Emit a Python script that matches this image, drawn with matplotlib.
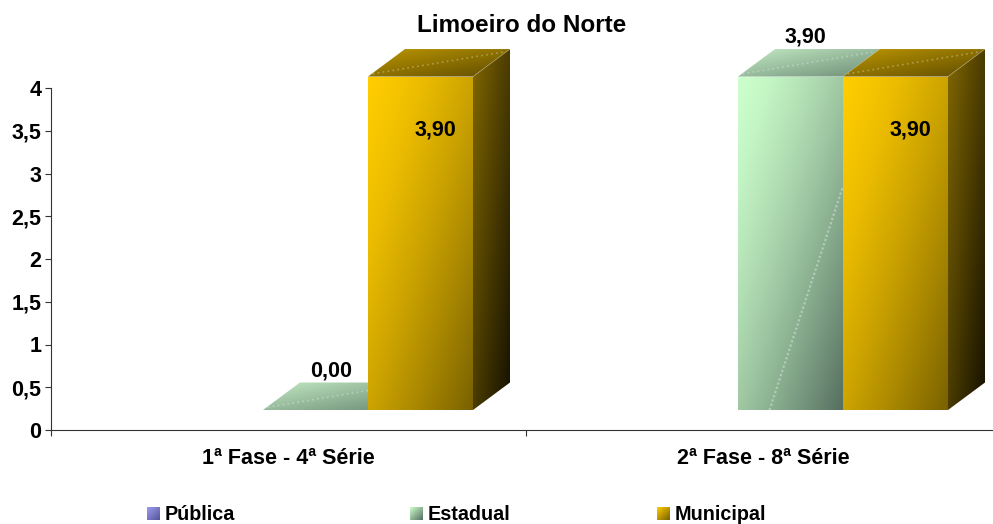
import numpy as np
import matplotlib
matplotlib.use("Agg")
import matplotlib.pyplot as plt
import matplotlib.colors as mcolors
from matplotlib.patches import Polygon

plt.rcParams["font.family"] = ["Liberation Sans", "DejaVu Sans"]
plt.rcParams["font.weight"] = "bold"

title = "Limoeiro do Norte"
categories = ["1ª Fase - 4ª Série", "2ª Fase - 8ª Série"]
yticks = [0, 0.5, 1, 1.5, 2, 2.5, 3, 3.5, 4]
ytick_labels = ["0", "0,5", "1", "1,5", "2", "2,5", "3", "3,5", "4"]
series_names = ["Pública", "Estadual", "Municipal"]
estadual = [0.00, 3.90]
municipal = [3.90, 3.90]

# bar geometry, in axis units (one category is one unit wide)
bar_w = 105 / 475
depth_x = 37 / 475
depth_y = 27.5 / 85.5
base_y = 20 / 85.5
est_left = 212 / 475
mun_left = 317 / 475

est_colors = {
    "front": ("#CCFFCC", "#566F60"),
    "top": ("#C4EBC4", "#6C8C76"),
}
mun_colors = {
    "front": ("#FFCC00", "#796100"),
    "top": ("#BD9700", "#5E4B00"),
    "side": ("#816700", "#151100"),
}


def gradient(ax, verts, c0, c1, z, gamma=1.0):
    # diagonal fill, light corner top left, dark corner bottom right
    verts = np.array(verts)
    x0, x1 = verts[:, 0].min(), verts[:, 0].max()
    y0, y1 = verts[:, 1].min(), verts[:, 1].max()
    u, v = np.meshgrid(np.linspace(0, 1, 128), np.linspace(0, 1, 128))
    cmap = mcolors.LinearSegmentedColormap.from_list("g", [c0, c1])
    im = ax.imshow(((u + v) / 2) ** gamma, cmap=cmap, vmin=0, vmax=1, extent=(x0, x1, y0, y1),
                   origin="upper", aspect="auto", interpolation="bilinear", zorder=z)
    # the bars stick out above the axes, so clip to the figure and not to ax.bbox
    im.set_clip_box(ax.figure.bbox)
    im.set_clip_path(Polygon(verts, transform=ax.transData))
    return im


def bar3d(ax, left, value, colors, z, streak=False):
    r = left + bar_w
    b = base_y
    t = base_y + value
    dx, dy = depth_x, depth_y
    top = [(left, t), (r, t), (r + dx, t + dy), (left + dx, t + dy)]
    gradient(ax, top, *colors["top"], z)
    # faint speckled band that crosses the top face
    ax.plot([left + 0.01, r + dx * 0.85], [t + dy * 0.1, t + dy * 0.9], color="white", alpha=0.3,
            lw=1.2, ls=(0, (1, 2)), zorder=z + 0.1, clip_on=False)
    if value > 0:
        # estadual has no "side" entry, municipal hides that face anyway
        if "side" in colors:
            side = [(r, b), (r + dx, b + dy), (r + dx, t + dy), (r, t)]
            gradient(ax, side, *colors["side"], z + 0.2)
        front = [(left, b), (r, b), (r, t), (left, t)]
        gradient(ax, front, *colors["front"], z + 0.2, gamma=1.4)
        ax.plot([r, r + dx], [t, t + dy], color="white", alpha=0.25, lw=0.6, zorder=z + 0.3, clip_on=False)
        if streak:
            ax.plot([left + bar_w * 0.3, r - 0.001], [b, t - 1.3], color="white", alpha=0.35,
                    lw=1.6, ls=(0, (1, 1)), zorder=z + 0.3)


fig = plt.figure(figsize=(9.93, 5.24), dpi=100)
ax = fig.add_axes([51 / 993, (524 - 430) / 524, 942 / 993, 342 / 524])
ax.set_autoscale_on(False)
ax.set_xlim(0, 942 / 475)
ax.set_ylim(0, 4)

for i in range(len(categories)):
    bar3d(ax, i + est_left, estadual[i], est_colors, 3, streak=True)
    bar3d(ax, i + mun_left, municipal[i], mun_colors, 4)
    # data labels
    ax.text(i + est_left + bar_w / 2 + 0.032, base_y + estadual[i] + depth_y + 0.14, f"{estadual[i]:.2f}".replace(".", ","),
            ha="center", va="center", fontsize=15.5, zorder=6, clip_on=False)
    ax.text(i + mun_left + bar_w / 2 + 0.032, base_y + municipal[i] - 0.62, f"{municipal[i]:.2f}".replace(".", ","),
            ha="center", va="center", fontsize=15.5, zorder=6, clip_on=False)

for s in ["top", "right"]:
    ax.spines[s].set_visible(False)
for s in ["left", "bottom"]:
    ax.spines[s].set_color("#333333")
    ax.spines[s].set_linewidth(0.8)

ax.set_yticks(yticks)
ax.set_yticklabels(ytick_labels, fontsize=15.5)
ax.tick_params(axis="y", length=4, width=0.8, color="#333333", pad=3)
ax.set_xticks([0, 1])
ax.set_xticklabels(["", ""])
ax.tick_params(axis="x", which="major", length=4, width=0.8, color="#333333")
ax.set_xticks([0.5, 1.5], minor=True)
ax.set_xticklabels(categories, minor=True, fontsize=15.5)
ax.tick_params(axis="x", which="minor", length=0, pad=13)

# overlay in image pixels for title and legend
ov = fig.add_axes([0, 0, 1, 1], facecolor="none")
ov.set_autoscale_on(False)
ov.set_xlim(0, 993)
ov.set_ylim(524, 0)
ov.axis("off")
ov.text(522, 25, title, ha="center", va="center", fontsize=17.5)

swatches = [("#9C9CF0", "#55559A"), est_colors["front"], mun_colors["front"]]
swatch_x = [147, 410, 657]
for name, (c0, c1), x in zip(series_names, swatches, swatch_x):
    u, v = np.meshgrid(np.linspace(0, 1, 32), np.linspace(0, 1, 32))
    cmap = mcolors.LinearSegmentedColormap.from_list("g", [c0, c1])
    ov.imshow((u + v) / 2, cmap=cmap, vmin=0, vmax=1, extent=(x, x + 13, 520, 507),
              origin="upper", aspect="auto", interpolation="bilinear")
    ov.text(x + 18, 514, name, ha="left", va="center", fontsize=14.2)

fig.savefig("out.png", dpi=100)
